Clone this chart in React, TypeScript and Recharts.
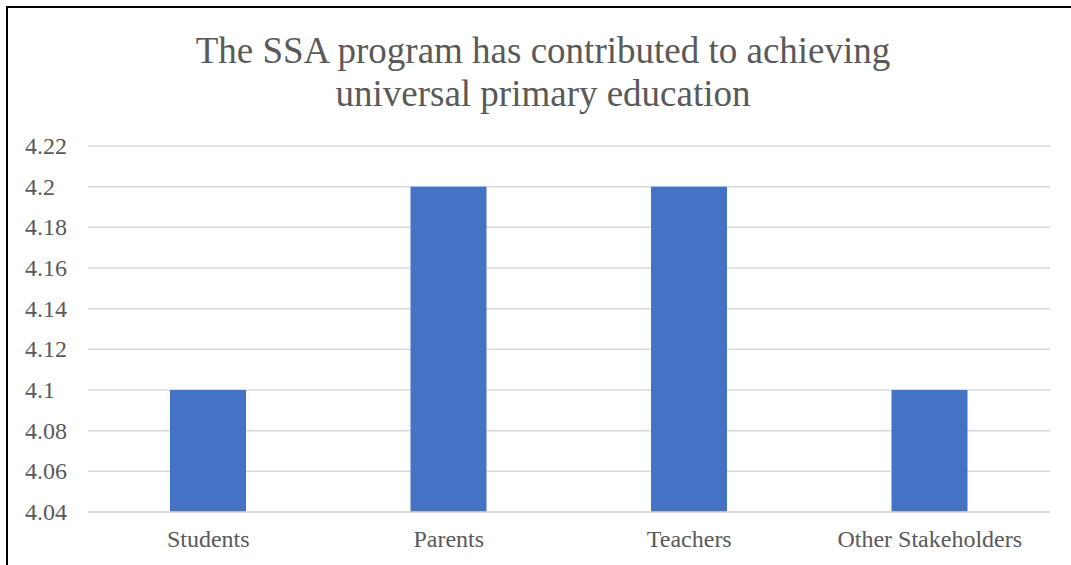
import React from "react";
import { BarChart, Bar, XAxis, YAxis, CartesianGrid } from "recharts";

const CATEGORIES = ["Students", "Parents", "Teachers", "Other Stakeholders"];
const MEANS = [4.1, 4.2, 4.2, 4.1];
const Y_TICKS = [4.04, 4.06, 4.08, 4.1, 4.12, 4.14, 4.16, 4.18, 4.2, 4.22];
const TITLE_LINES = ["The SSA program has contributed to achieving", "universal primary education"];

const FONT = "Liberation Serif, Times New Roman, serif";
const INK = "#595959";

const data = CATEGORIES.map((name, i) => ({ name, mean: MEANS[i] }));

function YTick(props: any) {
  const { y, payload } = props;
  return (
    <text x={25} y={y + 8} textAnchor="start" fontSize={24} fill={INK} fontFamily={FONT}>
      {payload.value}
    </text>
  );
}

function XTick(props: any) {
  const { x, y, payload } = props;
  return (
    <text x={x} y={y + 35} textAnchor="middle" fontSize={24} fill={INK} fontFamily={FONT}>
      {payload.value}
    </text>
  );
}

export default function App() {
  return (
    <div style={{ position: "absolute", left: 0, top: 0, width: 1071, height: 565, background: "#fff", overflow: "hidden" }}>
      {/* frame of the original chart, cropped on the right and bottom */}
      <div
        style={{
          position: "absolute",
          left: 6,
          top: 6,
          width: 1080,
          height: 580,
          border: "2px solid #000",
          boxSizing: "border-box",
        }}
      />
      <svg width={1071} height={130} style={{ position: "absolute", left: 0, top: 0 }}>
        {TITLE_LINES.map((t, i) => (
          <text key={t} x={543} y={63 + i * 43} textAnchor="middle" fontSize={37} fill={INK} fontFamily={FONT}>
            {t}
          </text>
        ))}
      </svg>
      <BarChart
        width={1071}
        height={565}
        data={data}
        margin={{ top: 146, right: 21, bottom: 0, left: 0 }}
        barCategoryGap={0}
        style={{ position: "absolute", left: 0, top: 0 }}
      >
        <CartesianGrid vertical={false} stroke="#d9d9d9" strokeWidth={1.5} />
        <XAxis
          dataKey="name"
          height={53}
          tickLine={false}
          tickSize={0}
          tickMargin={0}
          axisLine={{ stroke: "#d9d9d9", strokeWidth: 1.5 }}
          tick={<XTick />}
          interval={0}
        />
        <YAxis
          width={88}
          domain={[4.04, 4.22]}
          ticks={Y_TICKS}
          axisLine={false}
          tickLine={false}
          tickSize={0}
          tick={<YTick />}
          interval={0}
        />
        <Bar dataKey="mean" fill="#4472c4" barSize={76} isAnimationActive={false} />
      </BarChart>
    </div>
  );
}
